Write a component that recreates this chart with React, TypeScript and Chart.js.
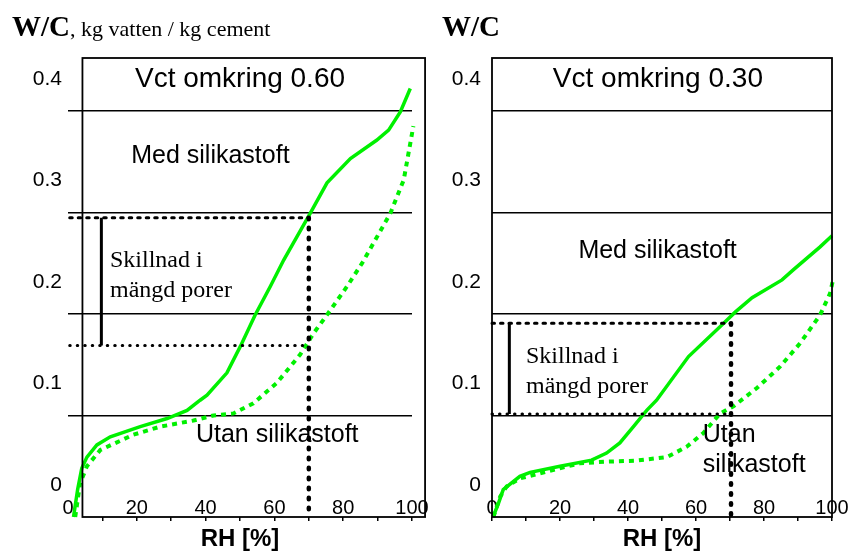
import React, { useEffect, useRef } from 'react';
import { Chart, registerables } from 'chart.js';

Chart.register(...registerables);

// ---------- shared axis ticks ----------
const xTickValues = [0, 10, 20, 30, 40, 50, 60, 70, 80, 90, 100];
const xTickLabels = ['0', '', '20', '', '40', '', '60', '', '80', '', '100'];
const yTickValues = [0, 0.1, 0.2, 0.3, 0.4];
const yTickLabels = ['0', '0.1', '0.2', '0.3', '0.4'];
const yMaxValue = 0.452;

// ---------- left panel: Vct omkring 0.60 ----------
const leftSolidRH = [1.6, 2.8, 4.0, 5.5, 8.4, 12.3, 21, 28.8, 34.6, 38.4, 40.4, 46.2, 50.1, 54.4, 58.8, 62.7, 70.4, 75.3, 82.1, 89.7, 93.2, 96.6, 99.5];
const leftSolidWC = [0, 0.027, 0.048, 0.059, 0.071, 0.079, 0.089, 0.097, 0.105, 0.115, 0.12, 0.142, 0.168, 0.199, 0.227, 0.253, 0.299, 0.329, 0.353, 0.371, 0.381, 0.399, 0.422];
const leftDotRH = [2.1, 3.5, 5.5, 9.4, 19, 26.8, 36.5, 42.3, 48.1, 53.9, 60.7, 67.5, 71.4, 75.3, 81.1, 85.5, 93.7, 97.6, 99.5, 100.4];
const leftDotWC = [0, 0.033, 0.05, 0.066, 0.081, 0.089, 0.095, 0.1, 0.102, 0.112, 0.132, 0.16, 0.181, 0.199, 0.227, 0.25, 0.299, 0.332, 0.368, 0.385];
const leftGuideRH = 70;
const leftGuideStartRH = 0.5;
const leftGuideHighWC = 0.2946;
const leftGuideLowWC = 0.1688;
const leftBracketRH = 9.7;
const leftFrameRH = [4.2, 103.8];

// ---------- right panel: Vct omkring 0.30 ----------
const rightSolidRH = [0.3, 1.9, 3.3, 8.2, 11.2, 20, 29.3, 33.7, 37.6, 41.6, 45.5, 48.4, 57.8, 67.6, 71.6, 76.5, 85.3, 88.6, 96.5, 100];
const rightSolidWC = [0, 0.0135, 0.027, 0.04, 0.044, 0.05, 0.056, 0.063, 0.073, 0.089, 0.105, 0.115, 0.158, 0.189, 0.202, 0.216, 0.2335, 0.2433, 0.266, 0.277];
const rightDotRH = [0.4, 2.4, 4.3, 8.2, 16.1, 25.9, 33.7, 42.5, 51.4, 57.2, 62.1, 67.1, 71, 77.9, 84.7, 90.6, 96.5, 99.4, 100.4];
const rightDotWC = [0, 0.02, 0.03, 0.038, 0.0446, 0.053, 0.0545, 0.0555, 0.059, 0.069, 0.0825, 0.102, 0.109, 0.127, 0.148, 0.171, 0.199, 0.22, 0.235];
const rightGuideRH = 70.3;
const rightGuideStartRH = 0;
const rightGuideHighWC = 0.1908;
const rightGuideLowWC = 0.1015;
const rightBracketRH = 5.1;
const rightFrameRH = [0, 100];

const GREEN = '#00f000';
const SANS = '"Liberation Sans", Arial, sans-serif';
const SERIF = '"Liberation Serif", "Times New Roman", serif';

type TextItem = { text: string; x: number; y: number; font: string; align: CanvasTextAlign };

const leftTexts: TextItem[] = [
  { text: 'Vct omkring 0.60', x: 50, y: 0.4236, font: `28px ${SANS}`, align: 'center' },
  { text: 'Med silikastoft', x: 41.4, y: 0.3488, font: `25px ${SANS}`, align: 'center' },
  { text: 'Skillnad i', x: 12.2, y: 0.2463, font: `24px ${SERIF}`, align: 'left' },
  { text: 'mängd porer', x: 12.2, y: 0.2167, font: `24px ${SERIF}`, align: 'left' },
  { text: 'Utan silikastoft', x: 37.2, y: 0.0739, font: `25px ${SANS}`, align: 'left' },
];

const rightTexts: TextItem[] = [
  { text: 'Vct omkring 0.30', x: 48.8, y: 0.4236, font: `28px ${SANS}`, align: 'center' },
  { text: 'Med silikastoft', x: 48.7, y: 0.2552, font: `25px ${SANS}`, align: 'center' },
  { text: 'Skillnad i', x: 10, y: 0.1514, font: `24px ${SERIF}`, align: 'left' },
  { text: 'mängd porer', x: 10, y: 0.1222, font: `24px ${SERIF}`, align: 'left' },
  { text: 'Utan', x: 62, y: 0.0739, font: `25px ${SANS}`, align: 'left' },
  { text: 'silikastoft', x: 62, y: 0.0443, font: `25px ${SANS}`, align: 'left' },
];

type PanelSpec = {
  solidRH: number[]; solidWC: number[];
  dotRH: number[]; dotWC: number[];
  guideRH: number; guideStartRH: number; guideHighWC: number; guideLowWC: number;
  bracketRH: number; frameRH: number[];
  texts: TextItem[];
  header: string; headerRest: string;
  yWidth: number; yPad: number; padRight: number; hideZeroTick: boolean;
};

const zip = (xs: number[], ys: number[]) => xs.map((x, i) => ({ x, y: ys[i] }));

function makePlugin(p: PanelSpec) {
  return {
    id: 'panelDecor',
    afterDraw(chart: any) {
      const ctx = chart.ctx;
      const xs = chart.scales.x;
      const ys = chart.scales.y;
      ctx.save();
      // frame
      const fl = xs.getPixelForValue(p.frameRH[0]);
      const fr = xs.getPixelForValue(p.frameRH[1]);
      const ft = ys.getPixelForValue(yMaxValue);
      const fb = ys.getPixelForValue(0);
      ctx.strokeStyle = '#000';
      ctx.lineWidth = 1.8;
      ctx.strokeRect(fl, ft, fr - fl, fb - ft);
      // texts
      ctx.fillStyle = '#000';
      ctx.textBaseline = 'alphabetic';
      for (const t of p.texts) {
        ctx.font = t.font;
        ctx.textAlign = t.align;
        ctx.fillText(t.text, xs.getPixelForValue(t.x), ys.getPixelForValue(t.y));
      }
      // header
      ctx.textAlign = 'left';
      ctx.font = `bold 29px ${SERIF}`;
      ctx.fillText(p.header, 12, 36);
      const w = ctx.measureText(p.header).width;
      if (p.headerRest) {
        ctx.font = `22px ${SERIF}`;
        ctx.fillText(p.headerRest, 12 + w, 36);
      }
      ctx.restore();
    },
  };
}

function buildConfig(p: PanelSpec): any {
  const blackDotted = (pts: { x: number; y: number }[], width: number, dash: number[]) => ({
    data: pts,
    borderColor: '#000',
    borderWidth: width,
    borderDash: dash,
    borderCapStyle: 'round',
    pointRadius: 0,
    clip: false,
  });
  return {
    type: 'line',
    data: {
      datasets: [
        blackDotted([{ x: p.guideStartRH, y: p.guideHighWC }, { x: p.guideRH, y: p.guideHighWC }], 3, [2.5, 6]),
        blackDotted([{ x: p.guideStartRH, y: p.guideLowWC }, { x: p.guideRH, y: p.guideLowWC }], 3, [0.5, 7]),
        blackDotted([{ x: p.guideRH, y: p.guideHighWC }, { x: p.guideRH, y: 0 }], 4.5, [1.5, 8.5]),
        {
          data: [{ x: p.bracketRH, y: p.guideHighWC }, { x: p.bracketRH, y: p.guideLowWC }],
          borderColor: '#000', borderWidth: 3, pointRadius: 0, clip: false,
        },
        {
          data: zip(p.solidRH, p.solidWC),
          borderColor: GREEN, borderWidth: 3.5, pointRadius: 0, tension: 0, clip: false,
        },
        {
          data: zip(p.dotRH, p.dotWC),
          borderColor: GREEN, borderWidth: 4, borderDash: [5, 5], pointRadius: 0, tension: 0, clip: false,
        },
      ],
    },
    options: {
      responsive: false,
      animation: false,
      events: [],
      layout: { padding: { left: 0, right: p.padRight, top: 58, bottom: 0 } },
      plugins: { legend: { display: false }, tooltip: { enabled: false }, title: { display: false } },
      scales: {
        x: {
          type: 'linear',
          min: 0,
          max: 100,
          afterBuildTicks: (s: any) => { s.ticks = xTickValues.map((v) => ({ value: v })); },
          afterFit: (s: any) => { s.height = 34; },
          ticks: {
            callback: (_v: any, i: number) => xTickLabels[i],
            font: { family: SANS, size: 20 },
            color: '#000',
            mirror: true,
            padding: -3,
            maxRotation: 0,
            autoSkip: false,
          },
          grid: {
            drawOnChartArea: false,
            drawTicks: true,
            tickLength: 4,
            color: '#000',
            tickColor: (c: any) => (p.hideZeroTick && c.tick && c.tick.value === 0 ? 'rgba(0,0,0,0)' : '#000'),
            lineWidth: 1.5,
          },
          border: { display: false },
          title: {
            display: true,
            text: 'RH [%]',
            color: '#000',
            font: { family: SANS, size: 24, weight: 'bold', lineHeight: 1 },
            padding: 0,
          },
        },
        y: {
          type: 'linear',
          min: 0,
          max: yMaxValue,
          afterBuildTicks: (s: any) => { s.ticks = yTickValues.map((v) => ({ value: v })); },
          afterFit: (s: any) => { s.width = p.yWidth; },
          ticks: {
            callback: (_v: any, i: number) => yTickLabels[i],
            font: { family: SANS, size: 21 },
            color: '#000',
            labelOffset: -32,
            padding: p.yPad,
            autoSkip: false,
          },
          grid: {
            drawTicks: false,
            color: (c: any) => (c.tick && c.tick.value === 0 ? 'rgba(0,0,0,0)' : '#000'),
            lineWidth: 1.4,
          },
          border: { display: false },
        },
      },
    },
    plugins: [makePlugin(p)],
  };
}

const leftSpec: PanelSpec = {
  solidRH: leftSolidRH, solidWC: leftSolidWC, dotRH: leftDotRH, dotWC: leftDotWC,
  guideRH: leftGuideRH, guideStartRH: leftGuideStartRH, guideHighWC: leftGuideHighWC, guideLowWC: leftGuideLowWC,
  bracketRH: leftBracketRH, frameRH: leftFrameRH, texts: leftTexts,
  header: 'W/C', headerRest: ', kg vatten / kg cement',
  yWidth: 68, yPad: 6, padRight: 18, hideZeroTick: true,
};

const rightSpec: PanelSpec = {
  solidRH: rightSolidRH, solidWC: rightSolidWC, dotRH: rightDotRH, dotWC: rightDotWC,
  guideRH: rightGuideRH, guideStartRH: rightGuideStartRH, guideHighWC: rightGuideHighWC, guideLowWC: rightGuideLowWC,
  bracketRH: rightBracketRH, frameRH: rightFrameRH, texts: rightTexts,
  header: 'W/C', headerRest: '',
  yWidth: 62, yPad: 11, padRight: 19, hideZeroTick: false,
};

function Panel({ spec, left, width }: { spec: PanelSpec; left: number; width: number }) {
  const ref = useRef<HTMLCanvasElement>(null);
  useEffect(() => {
    const chart = new Chart(ref.current as HTMLCanvasElement, buildConfig(spec));
    return () => chart.destroy();
  }, [spec]);
  return (
    <canvas
      ref={ref}
      width={width}
      height={551}
      style={{ position: 'absolute', left, top: 0, width, height: 551, display: 'block' }}
    />
  );
}

export default function App() {
  return (
    <div style={{ position: 'absolute', left: 0, top: 0, width: 851, height: 551, background: '#fff', overflow: 'hidden' }}>
      <Panel spec={leftSpec} left={0} width={430} />
      <Panel spec={rightSpec} left={430} width={421} />
    </div>
  );
}
